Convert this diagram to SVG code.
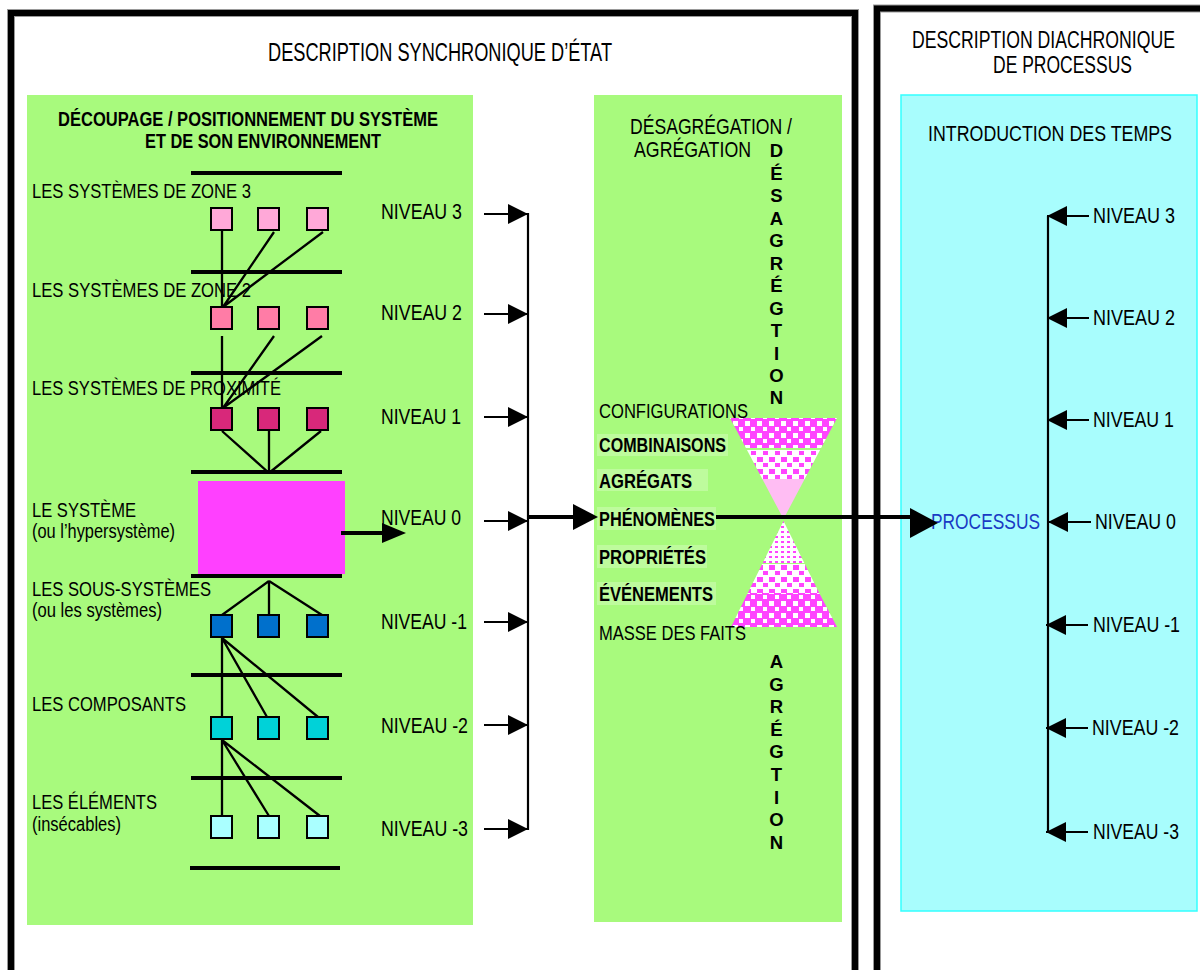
<svg xmlns="http://www.w3.org/2000/svg" width="1200" height="970" viewBox="0 0 1200 970">
  <defs>
    <style>
      .t{font-family:"Liberation Sans Narrow","Liberation Sans",Arial,sans-serif;font-size:22px;fill:#000}
      .s{font-size:20.5px}
      .b{font-weight:bold}
      .hd{font-size:20px;font-weight:bold}
      .big{font-size:25px}
      .mid{font-size:23px}
      .v{font-family:"Liberation Sans Narrow","Liberation Sans",Arial,sans-serif;font-size:18.5px;font-weight:bold;text-anchor:middle;fill:#000}
      .frame{fill:none;stroke:#000;stroke-width:6}
      .frame-edge{fill:none;stroke:#999;stroke-width:8}
      .sep{stroke:#000;stroke-width:4}
      .link{stroke:#000;stroke-width:2.3;fill:none}
      .sq{stroke:#000;stroke-width:2}
      .shaft{stroke:#000;stroke-width:2.2}
      .thick{stroke:#000;stroke-width:4}
      .halo{fill:#fff;fill-opacity:0.25}
    </style>
    <marker id="tri" viewBox="0 0 20 20" markerUnits="userSpaceOnUse" markerWidth="20" markerHeight="20" refX="20" refY="10" orient="auto">
      <path d="M0,0 L20,10 L0,20 z" fill="#000"/>
    </marker>
    <!-- hourglass fills -->
    <pattern id="dense" patternUnits="userSpaceOnUse" width="12" height="12">
      <rect width="12" height="12" fill="#ff44ff"/>
      <rect x="1" y="1" width="5" height="5" fill="#fff"/>
      <rect x="7" y="7" width="4" height="4" fill="#fff"/>
    </pattern>
    <pattern id="medium" patternUnits="userSpaceOnUse" width="12" height="12">
      <rect width="12" height="12" fill="#fff"/>
      <rect x="1" y="1" width="6" height="5" fill="#ff44ff"/>
      <rect x="7" y="7" width="5" height="4" fill="#ff44ff"/>
    </pattern>
    <pattern id="fine" patternUnits="userSpaceOnUse" width="6" height="5">
      <rect width="6" height="5" fill="#fff"/>
      <rect x="1" y="1" width="3" height="2" fill="#ff44ff"/>
    </pattern>
  </defs>

  <!-- outer frames -->
  <rect x="11" y="13" width="844" height="1000" class="frame-edge"/>
  <rect x="11" y="13" width="844" height="1000" class="frame"/>
  <rect x="877" y="8.5" width="400" height="1000" class="frame-edge"/>
  <rect x="877" y="8.5" width="400" height="1000" class="frame"/>

  <!-- titles -->
  <text class="t big" x="268" y="61" textLength="344" lengthAdjust="spacingAndGlyphs">DESCRIPTION SYNCHRONIQUE D’ÉTAT</text>
  <text class="t mid" x="912" y="48" textLength="263" lengthAdjust="spacingAndGlyphs">DESCRIPTION DIACHRONIQUE</text>
  <text class="t mid" x="993" y="73" textLength="139" lengthAdjust="spacingAndGlyphs">DE PROCESSUS</text>

  <!-- panel: découpage -->
  <g id="panel-decoupage">
    <rect x="27" y="95" width="446" height="830" fill="#a8fa7d"/>
    <text class="t hd" x="58" y="126" textLength="380" lengthAdjust="spacingAndGlyphs">DÉCOUPAGE / POSITIONNEMENT DU SYSTÈME</text>
    <text class="t hd" x="145" y="148" textLength="236" lengthAdjust="spacingAndGlyphs">ET DE SON ENVIRONNEMENT</text>
    <text class="t s" x="32" y="198" textLength="219" lengthAdjust="spacingAndGlyphs">LES SYSTÈMES DE ZONE 3</text>
    <text class="t s" x="32" y="297" textLength="219" lengthAdjust="spacingAndGlyphs">LES SYSTÈMES DE ZONE 2</text>
    <text class="t s" x="32" y="395" textLength="249" lengthAdjust="spacingAndGlyphs">LES SYSTÈMES DE PROXIMITÉ</text>
    <text class="t s" x="32" y="517" textLength="104" lengthAdjust="spacingAndGlyphs">LE SYSTÈME</text>
    <text class="t s" x="32" y="538" textLength="143" lengthAdjust="spacingAndGlyphs">(ou l’hypersystème)</text>
    <text class="t s" x="32" y="596" textLength="179" lengthAdjust="spacingAndGlyphs">LES SOUS-SYSTÈMES</text>
    <text class="t s" x="32" y="617" textLength="130" lengthAdjust="spacingAndGlyphs">(ou les systèmes)</text>
    <text class="t s" x="32" y="711" textLength="154" lengthAdjust="spacingAndGlyphs">LES COMPOSANTS</text>
    <text class="t s" x="32" y="809" textLength="125" lengthAdjust="spacingAndGlyphs">LES ÉLÉMENTS</text>
    <text class="t s" x="32" y="831" textLength="89" lengthAdjust="spacingAndGlyphs">(insécables)</text>

    <!-- level separators -->
    <line class="sep" x1="191" y1="173" x2="342" y2="173"/>
    <line class="sep" x1="191" y1="272" x2="342" y2="272"/>
    <line class="sep" x1="191" y1="373" x2="342" y2="373"/>
    <line class="sep" x1="191" y1="472" x2="342" y2="472"/>
    <line class="sep" x1="191" y1="576" x2="342" y2="576"/>
    <line class="sep" x1="191" y1="675" x2="342" y2="675"/>
    <line class="sep" x1="191" y1="778" x2="342" y2="778"/>
    <line class="sep" x1="190" y1="868" x2="340" y2="868"/>

    <text class="t" x="381" y="219" textLength="81" lengthAdjust="spacingAndGlyphs">NIVEAU 3</text>
    <text class="t" x="381" y="320" textLength="81" lengthAdjust="spacingAndGlyphs">NIVEAU 2</text>
    <text class="t" x="381" y="424" textLength="80" lengthAdjust="spacingAndGlyphs">NIVEAU 1</text>
    <text class="t" x="381" y="525" textLength="80" lengthAdjust="spacingAndGlyphs">NIVEAU 0</text>
    <text class="t" x="381" y="629" textLength="86" lengthAdjust="spacingAndGlyphs">NIVEAU -1</text>
    <text class="t" x="381" y="733" textLength="87" lengthAdjust="spacingAndGlyphs">NIVEAU -2</text>
    <text class="t" x="381" y="836" textLength="87" lengthAdjust="spacingAndGlyphs">NIVEAU -3</text>
  </g>

  <!-- panel: désagrégation / agrégation -->
  <g id="panel-agregation">
    <rect x="594" y="95" width="248" height="827" fill="#a8fa7d"/>
    <text class="t" x="630" y="134" textLength="162" lengthAdjust="spacingAndGlyphs">DÉSAGRÉGATION /</text>
    <text class="t" x="634" y="157" textLength="117" lengthAdjust="spacingAndGlyphs">AGRÉGATION</text>
    <g id="vert-desagregation">
      <text class="v" x="776.5" y="157">D</text>
      <text class="v" x="776.5" y="179.5">É</text>
      <text class="v" x="776.5" y="202">S</text>
      <text class="v" x="776.5" y="224.5">A</text>
      <text class="v" x="776.5" y="247">G</text>
      <text class="v" x="776.5" y="269.5">R</text>
      <text class="v" x="776.5" y="292">É</text>
      <text class="v" x="776.5" y="314.5">G</text>
      <text class="v" x="776.5" y="337">T</text>
      <text class="v" x="776.5" y="359.5">I</text>
      <text class="v" x="776.5" y="382">O</text>
      <text class="v" x="776.5" y="404">N</text>
    </g>
    <g id="vert-agregation">
      <text class="v" x="776.5" y="668">A</text>
      <text class="v" x="776.5" y="690.6">G</text>
      <text class="v" x="776.5" y="713.2">R</text>
      <text class="v" x="776.5" y="735.8">É</text>
      <text class="v" x="776.5" y="758.4">G</text>
      <text class="v" x="776.5" y="781">T</text>
      <text class="v" x="776.5" y="803.6">I</text>
      <text class="v" x="776.5" y="826.2">O</text>
      <text class="v" x="776.5" y="848.8">N</text>
    </g>

    <!-- hourglass -->
    <g id="hourglass">
      <polygon points="730,418 837,418 821.1,448 745.9,448" fill="url(#dense)"/>
      <polygon points="747,450 820,450 804.7,479 762.3,479" fill="url(#medium)"/>
      <polygon points="762.3,479 804.7,479 783.5,519" fill="#ffbdf3"/>
      <polygon points="783.5,521 804.3,563 762.7,563" fill="url(#fine)"/>
      <polygon points="762.2,564 804.8,564 819.2,593 747.8,593" fill="url(#medium)"/>
      <polygon points="747.8,593 819.2,593 837,627 731,627" fill="url(#dense)"/>
    </g>

    <rect class="halo" x="597" y="434" width="131" height="22"/>
    <rect class="halo" x="597" y="469" width="111" height="22"/>
    <rect class="halo" x="597" y="507" width="119" height="23"/>
    <rect class="halo" x="597" y="545" width="110" height="23"/>
    <rect class="halo" x="597" y="582" width="119" height="23"/>

    <text class="t s" x="599" y="418" textLength="149" lengthAdjust="spacingAndGlyphs">CONFIGURATIONS</text>
    <text class="t s b" x="599" y="452" textLength="127" lengthAdjust="spacingAndGlyphs">COMBINAISONS</text>
    <text class="t s b" x="599" y="488" textLength="93" lengthAdjust="spacingAndGlyphs">AGRÉGATS</text>
    <text class="t s b" x="599" y="526" textLength="116" lengthAdjust="spacingAndGlyphs">PHÉNOMÈNES</text>
    <text class="t s b" x="599" y="564" textLength="107" lengthAdjust="spacingAndGlyphs">PROPRIÉTÉS</text>
    <text class="t s b" x="599" y="601" textLength="114" lengthAdjust="spacingAndGlyphs">ÉVÉNEMENTS</text>
    <text class="t s" x="599" y="640" textLength="147" lengthAdjust="spacingAndGlyphs">MASSE DES FAITS</text>
  </g>

  <!-- panel: introduction des temps -->
  <g id="panel-temps">
    <rect x="901" y="95" width="296" height="816" fill="#a8fdfd" stroke="#3ff" stroke-width="1.5"/>
    <text class="t" x="928" y="141" textLength="244" lengthAdjust="spacingAndGlyphs">INTRODUCTION DES TEMPS</text>
    <text class="t" x="931" y="529" style="fill:#1a3ac4" textLength="109" lengthAdjust="spacingAndGlyphs">PROCESSUS</text>
    <text class="t" x="1093" y="223" textLength="82" lengthAdjust="spacingAndGlyphs">NIVEAU 3</text>
    <text class="t" x="1093" y="325" textLength="82" lengthAdjust="spacingAndGlyphs">NIVEAU 2</text>
    <text class="t" x="1093" y="427" textLength="81" lengthAdjust="spacingAndGlyphs">NIVEAU 1</text>
    <text class="t" x="1095" y="529" textLength="81" lengthAdjust="spacingAndGlyphs">NIVEAU 0</text>
    <text class="t" x="1093" y="632" textLength="87" lengthAdjust="spacingAndGlyphs">NIVEAU -1</text>
    <text class="t" x="1092" y="735" textLength="87" lengthAdjust="spacingAndGlyphs">NIVEAU -2</text>
    <text class="t" x="1093" y="839" textLength="86" lengthAdjust="spacingAndGlyphs">NIVEAU -3</text>
  </g>

  <!-- system nodes -->
  <g id="zone3">
    <rect id="z3a" class="sq" x="211" y="208" width="21" height="22" fill="#ffa8d8"/>
    <rect id="z3b" class="sq" x="258" y="208" width="21" height="22" fill="#ffa8d8"/>
    <rect id="z3c" class="sq" x="307" y="208" width="21" height="22" fill="#ffa8d8"/>
  </g>
  <g id="zone2">
    <rect id="z2a" class="sq" x="211" y="307" width="21" height="22" fill="#ff7ca6"/>
    <rect id="z2b" class="sq" x="258" y="307" width="21" height="22" fill="#ff7ca6"/>
    <rect id="z2c" class="sq" x="307" y="307" width="21" height="22" fill="#ff7ca6"/>
  </g>
  <g id="proximite">
    <rect id="pxa" class="sq" x="211" y="408" width="21" height="22" fill="#d8287a"/>
    <rect id="pxb" class="sq" x="258" y="408" width="21" height="22" fill="#d8287a"/>
    <rect id="pxc" class="sq" x="307" y="408" width="21" height="22" fill="#d8287a"/>
  </g>
  <g id="systeme">
    <rect x="198" y="481" width="147" height="93" fill="#ff40ff"/>
  </g>
  <g id="sous-systemes">
    <rect id="ssa" class="sq" x="211" y="615" width="21" height="22" fill="#0070cc"/>
    <rect id="ssb" class="sq" x="258" y="615" width="21" height="22" fill="#0070cc"/>
    <rect id="ssc" class="sq" x="307" y="615" width="21" height="22" fill="#0070cc"/>
  </g>
  <g id="composants">
    <rect id="cpa" class="sq" x="211" y="717" width="21" height="22" fill="#00d2d8"/>
    <rect id="cpb" class="sq" x="258" y="717" width="21" height="22" fill="#00d2d8"/>
    <rect id="cpc" class="sq" x="307" y="717" width="21" height="22" fill="#00d2d8"/>
  </g>
  <g id="elements">
    <rect id="ela" class="sq" x="211" y="816" width="21" height="22" fill="#aaffff"/>
    <rect id="elb" class="sq" x="258" y="816" width="21" height="22" fill="#aaffff"/>
    <rect id="elc" class="sq" x="307" y="816" width="21" height="22" fill="#aaffff"/>
  </g>

  <g id="connectors">
    <!-- tree links -->
    <path class="link" d="M222,231 L222,307 M274,232 L223,307 M323,232 L223,307"/>
    <path class="link" d="M222,336 L222,409 M274,336 L223,408 M322,336 L223,408"/>
    <path class="link" d="M222,431 L269,473 M269,431 L269,473 M321,431 L269,473"/>
    <path class="link" d="M269,581 L222,615 M269,581 L269,615 M269,581 L322,615"/>
    <path class="link" d="M222,638 L222,717 M222,638 L267,717 M222,638 L318,717"/>
    <path class="link" d="M222,740 L222,816 M222,740 L269,816 M222,740 L320,816"/>

    <!-- levels to the synchronic collector -->
    <line class="shaft" x1="484" y1="214" x2="528" y2="214" marker-end="url(#tri)"/>
    <line class="shaft" x1="484" y1="314" x2="528" y2="314" marker-end="url(#tri)"/>
    <line class="shaft" x1="484" y1="417" x2="528" y2="417" marker-end="url(#tri)"/>
    <line class="shaft" x1="484" y1="521" x2="528" y2="521" marker-end="url(#tri)"/>
    <line class="shaft" x1="484" y1="622" x2="528" y2="622" marker-end="url(#tri)"/>
    <line class="shaft" x1="484" y1="725" x2="528" y2="725" marker-end="url(#tri)"/>
    <line class="shaft" x1="484" y1="829" x2="528" y2="829" marker-end="url(#tri)"/>
    <line class="shaft" x1="528" y1="213" x2="528" y2="830"/>

    <!-- system to level 0 -->
    <line class="thick" x1="341" y1="533" x2="384" y2="533"/>
    <polygon points="382,523 406,533 382,543" fill="#000"/>

    <!-- collector to phenomena -->
    <line class="thick" x1="528" y1="517" x2="575" y2="517"/>
    <polygon points="573,504 598,517 573,530" fill="#000"/>

    <!-- phenomena to process -->
    <line class="thick" x1="716" y1="517" x2="912" y2="517"/>
    <polygon points="910,508 938,523 910,538" fill="#000"/>

    <!-- diachronic collector -->
    <line class="shaft" x1="1048" y1="216" x2="1048" y2="833"/>
    <line class="shaft" x1="1089" y1="216" x2="1047" y2="216" marker-end="url(#tri)"/>
    <line class="shaft" x1="1089" y1="318" x2="1047" y2="318" marker-end="url(#tri)"/>
    <line class="shaft" x1="1089" y1="420" x2="1047" y2="420" marker-end="url(#tri)"/>
    <line class="shaft" x1="1091" y1="522" x2="1048" y2="522" marker-end="url(#tri)"/>
    <line class="shaft" x1="1088" y1="625" x2="1046" y2="625" marker-end="url(#tri)"/>
    <line class="shaft" x1="1088" y1="728" x2="1046" y2="728" marker-end="url(#tri)"/>
    <line class="shaft" x1="1088" y1="832" x2="1046" y2="832" marker-end="url(#tri)"/>
  </g>
</svg>
